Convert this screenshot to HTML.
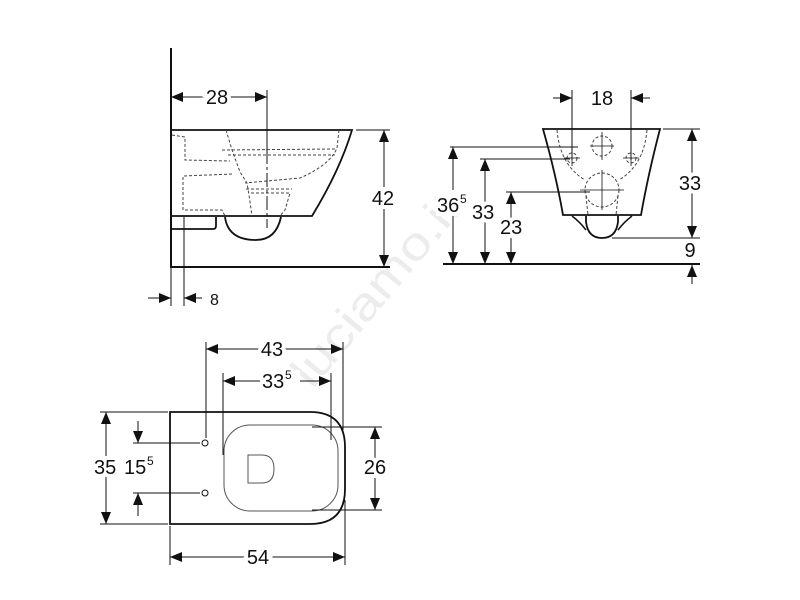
<!DOCTYPE html>
<html><head><meta charset="utf-8"><style>
html,body{margin:0;padding:0;background:#fff;}
svg{display:block;}
text{font-family:"Liberation Sans",sans-serif;font-size:20px;fill:#111;}
.t{paint-order:stroke;stroke:#fff;stroke-width:8px;}
.s{font-size:12px;}
</style></head><body>
<svg width="800" height="600" viewBox="0 0 800 600" xmlns="http://www.w3.org/2000/svg">
<defs>
<marker id="a" viewBox="0 0 12 10" refX="12" refY="5" markerWidth="12" markerHeight="10" markerUnits="userSpaceOnUse" orient="auto-start-reverse">
<path d="M0,0 L12,5 L0,10 z" fill="#111"/></marker>
</defs>
<!-- watermark -->
<text x="0" y="0" transform="translate(312,390) rotate(-50)" style="font-size:46px;fill:#ececec" textLength="235" lengthAdjust="spacingAndGlyphs">luciamo.it</text>

<g fill="none" stroke="#111">
<!-- SIDE VIEW -->
<line x1="171" y1="48" x2="171" y2="268" stroke-width="2"/>
<line x1="171" y1="267" x2="390" y2="267" stroke-width="2"/>
<path d="M171,130 L352,130 Q340,170 312,216 L171,216" stroke-width="1.8"/>
<path d="M172,229 L213,229 Q216,229 216,226 L216,217" stroke-width="1.8"/>
<path d="M225,217 Q228,240 256,240 Q276,240 281,217" stroke-width="1.8"/>
<g stroke-width="1" stroke-dasharray="3,2" stroke="#444">
<path d="M172,135 L185,137 L185,160 L230,161"/>
<path d="M232,174 L183,176 L183,210 L222,210 L225,216"/>
<path d="M226,130 L232,150 L240,172 L247,183 L249,195 L252,216"/>
<path d="M222,150 L335,149 M228,155 L335,155"/>
<path d="M339,130 L337,148 Q330,165 300,178 L245,183"/>
<path d="M246,189 L292,189 M251,193 L290,193 L285,210 L280,216"/>
</g>
<line x1="267" y1="90" x2="267" y2="150" stroke-width="1"/>
<line x1="267" y1="150" x2="267" y2="228" stroke-width="1" stroke-dasharray="14,3,3,3"/>
<line x1="171" y1="97" x2="267" y2="97" stroke-width="1" marker-start="url(#a)" marker-end="url(#a)"/>
<line x1="356" y1="130" x2="390" y2="130" stroke-width="1"/>
<line x1="384" y1="130" x2="384" y2="267" stroke-width="1" marker-start="url(#a)" marker-end="url(#a)"/>
<line x1="171" y1="268" x2="171" y2="306" stroke-width="1"/>
<line x1="184" y1="216" x2="184" y2="306" stroke-width="1"/>
<line x1="148" y1="298" x2="171" y2="298" stroke-width="1" marker-end="url(#a)"/>
<line x1="202" y1="298" x2="184" y2="298" stroke-width="1" marker-end="url(#a)"/>

<!-- FRONT VIEW -->
<path d="M543,129 L660,129 Q648,175 641,215 L563,215 Q556,175 543,129 Z" stroke-width="1.8"/>
<path d="M572,216 Q580,222 586,230 M632,216 Q624,222 618,230" stroke-width="1.5"/>
<path d="M586,216 L586,222 Q588,238 602,238 Q616,238 618,222 L618,216" stroke-width="1.8"/>
<line x1="443" y1="264" x2="700" y2="264" stroke-width="2"/>
<g stroke-width="1" stroke-dasharray="3,2" stroke="#444">
<circle cx="602" cy="146" r="10"/>
<circle cx="602" cy="190" r="17"/>
<path d="M557,130 Q560,165 585,180 M647,130 Q644,165 619,180"/>
<path d="M586,196 L588,215 M618,196 L616,215"/>
<circle cx="572" cy="158" r="5"/><circle cx="631" cy="158" r="5"/>
</g>
<g stroke-width="0.8">
<path d="M602,132 V160 M590,146 H614 M602,170 V210 M580,190 H624 M564,158 H580 M572,150 V166 M623,158 H639 M631,150 V166"/>
</g>
<line x1="572" y1="90" x2="572" y2="160" stroke-width="1"/>
<line x1="631" y1="90" x2="631" y2="160" stroke-width="1"/>
<line x1="553" y1="98" x2="572" y2="98" stroke-width="1" marker-end="url(#a)"/>
<line x1="650" y1="98" x2="631" y2="98" stroke-width="1" marker-end="url(#a)"/>
<line x1="450" y1="147" x2="578" y2="147" stroke-width="1"/>
<line x1="480" y1="159" x2="570" y2="159" stroke-width="1"/>
<line x1="506" y1="192" x2="590" y2="192" stroke-width="1"/>
<line x1="453" y1="147" x2="453" y2="264" stroke-width="1" marker-start="url(#a)" marker-end="url(#a)"/>
<line x1="485" y1="159" x2="485" y2="264" stroke-width="1" marker-start="url(#a)" marker-end="url(#a)"/>
<line x1="511" y1="192" x2="511" y2="264" stroke-width="1" marker-start="url(#a)" marker-end="url(#a)"/>
<line x1="663" y1="129" x2="700" y2="129" stroke-width="1"/>
<line x1="612" y1="238" x2="700" y2="238" stroke-width="1"/>
<line x1="692" y1="129" x2="692" y2="238" stroke-width="1" marker-start="url(#a)" marker-end="url(#a)"/>
<line x1="692" y1="284" x2="692" y2="265" stroke-width="1" marker-end="url(#a)"/>

<!-- TOP VIEW -->
<path d="M170,412 L310,412 Q345,412 345,447 L345,489 Q345,524 310,524 L170,524 Z" stroke-width="1.8"/>
<rect x="224" y="425" width="114" height="86" rx="26" stroke-width="1" stroke="#555"/>
<path d="M248,455 L262,455 Q274,455 274,469 Q274,483 262,483 L248,483 Z" stroke-width="1" stroke="#555"/>
<circle cx="205" cy="443" r="3" stroke-width="1"/>
<circle cx="205" cy="493" r="3" stroke-width="1"/>
<line x1="206" y1="342" x2="206" y2="438" stroke-width="1"/>
<line x1="343" y1="342" x2="343" y2="430" stroke-width="1"/>
<line x1="345" y1="500" x2="345" y2="565" stroke-width="1"/>
<line x1="206" y1="349" x2="343" y2="349" stroke-width="1" marker-start="url(#a)" marker-end="url(#a)"/>
<line x1="223" y1="373" x2="223" y2="455" stroke-width="1"/>
<line x1="331" y1="373" x2="331" y2="440" stroke-width="1"/>
<line x1="223" y1="381" x2="331" y2="381" stroke-width="1" marker-start="url(#a)" marker-end="url(#a)"/>
<line x1="100" y1="412" x2="168" y2="412" stroke-width="1"/>
<line x1="100" y1="524" x2="168" y2="524" stroke-width="1"/>
<line x1="106" y1="412" x2="106" y2="524" stroke-width="1" marker-start="url(#a)" marker-end="url(#a)"/>
<line x1="133" y1="443" x2="200" y2="443" stroke-width="1"/>
<line x1="133" y1="493" x2="200" y2="493" stroke-width="1"/>
<line x1="138" y1="421" x2="138" y2="443" stroke-width="1" marker-end="url(#a)"/>
<line x1="138" y1="516" x2="138" y2="493" stroke-width="1" marker-end="url(#a)"/>
<line x1="312" y1="427" x2="382" y2="427" stroke-width="1"/>
<line x1="312" y1="510" x2="382" y2="510" stroke-width="1"/>
<line x1="375" y1="427" x2="375" y2="510" stroke-width="1" marker-start="url(#a)" marker-end="url(#a)"/>
<line x1="170" y1="526" x2="170" y2="565" stroke-width="1"/>
<line x1="170" y1="557" x2="345" y2="557" stroke-width="1" marker-start="url(#a)" marker-end="url(#a)"/>
</g>

<!-- white gaps behind superscript labels -->
<rect x="436" y="190" width="34" height="26" fill="#fff"/>
<rect x="260" y="370" width="40" height="22" fill="#fff"/>
<rect x="123" y="455" width="34" height="24" fill="#fff"/>

<!-- labels -->
<text class="t" x="217" y="104" text-anchor="middle">28</text>
<text class="t" x="383" y="205" text-anchor="middle">42</text>
<text x="210" y="305" style="font-size:16px">8</text>
<text class="t" x="602" y="105" text-anchor="middle">18</text>
<text x="437" y="212">36</text><text class="s" x="460" y="203">5</text>
<text class="t" x="472" y="219">33</text>
<text class="t" x="500" y="234">23</text>
<text class="t" x="690" y="190" text-anchor="middle">33</text>
<text x="690" y="257" text-anchor="middle">9</text>
<text class="t" x="272" y="356" text-anchor="middle">43</text>
<text x="262" y="388">33</text><text class="s" x="285" y="379">5</text>
<text class="t" x="94" y="474">35</text>
<text x="124" y="474">15</text><text class="s" x="147" y="465">5</text>
<text class="t" x="375" y="474" text-anchor="middle">26</text>
<text class="t" x="258" y="564" text-anchor="middle">54</text>
</svg>
</body></html>
